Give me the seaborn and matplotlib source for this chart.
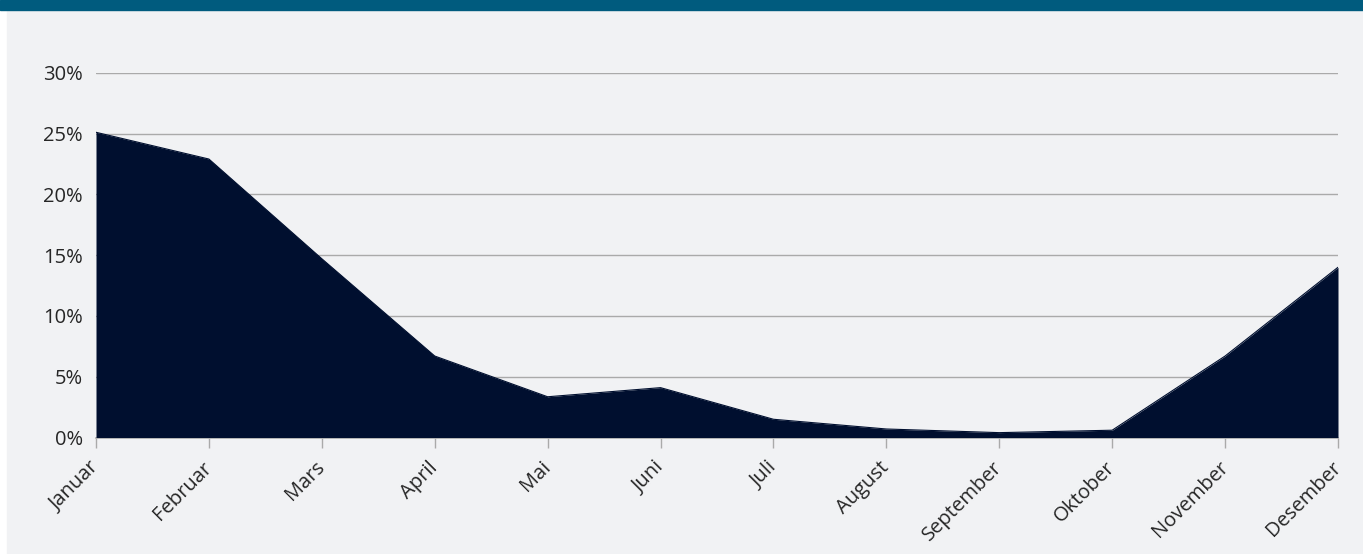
import matplotlib
matplotlib.use("Agg")
import matplotlib.pyplot as plt
import seaborn as sns
import pandas as pd
from matplotlib.patches import Rectangle

# Monthly share of the yearly total (%)
months = ["Januar", "Februar", "Mars", "April", "Mai", "Juni", "Juli",
          "August", "September", "Oktober", "November", "Desember"]
share = [25.1, 22.9, 14.7, 6.7, 3.35, 4.1, 1.5, 0.7, 0.4, 0.6, 6.7, 14.0]
y_ticks = [0, 5, 10, 15, 20, 25, 30]
y_labels = ["0%", "5%", "10%", "15%", "20%", "25%", "30%"]

BG = "#f1f2f4"
BAND = "#005b7e"
FILL = "#000f2f"
GRID = "#aaaaaa"
TEXT = "#262626"

sns.set_theme(style="white")
plt.rcParams["font.family"] = ["Open Sans", "DejaVu Sans"]

W, H = 1363, 554
fig = plt.figure(figsize=(W / 100, H / 100), dpi=100)
fig.patch.set_facecolor("white")
fig.patches.append(Rectangle((7 / W, 0), 1 - 7 / W, (H - 10) / H,
                             transform=fig.transFigure, color=BG, zorder=-10))
fig.patches.append(Rectangle((0, (H - 10) / H), 1, 10 / H,
                             transform=fig.transFigure, color=BAND, zorder=-10))

ax = fig.add_axes([96 / W, (H - 437.5) / H, (1338 - 96) / W, (437.5 - 72.7) / H])
ax.set_facecolor("none")

df = pd.DataFrame({"pos": range(len(months)), "month": months, "share": share})
sns.lineplot(data=df, x="pos", y="share", color=FILL, lw=0.8, ax=ax, zorder=3)
ax.fill_between(df["pos"], df["share"], color=FILL, lw=0, zorder=3)

ax.set_xlim(0, len(months) - 1)
ax.set_ylim(0, 30)
ax.set_yticks(y_ticks)
ax.set_yticklabels(y_labels)
ax.set_xticks(df["pos"])
ax.set_xticklabels(months, rotation=45, ha="right", va="center",
                   rotation_mode="anchor")
ax.set_xlabel("")
ax.set_ylabel("")

for t in y_ticks[1:]:
    ax.axhline(t, color=GRID, lw=1, zorder=1)

for side in ["top", "right", "left"]:
    ax.spines[side].set_visible(False)
ax.spines["bottom"].set_color(GRID)
ax.spines["bottom"].set_linewidth(1.2)
ax.spines["bottom"].set_zorder(2)

ax.tick_params(axis="x", bottom=True, direction="out", length=7, width=1,
               color=GRID, labelsize=14.5, labelcolor=TEXT, pad=12.5)
ax.tick_params(axis="y", left=False, length=0, labelsize=14.5,
               labelcolor=TEXT, pad=9.5)

fig.savefig("out.png", dpi=100, facecolor=fig.get_facecolor())
